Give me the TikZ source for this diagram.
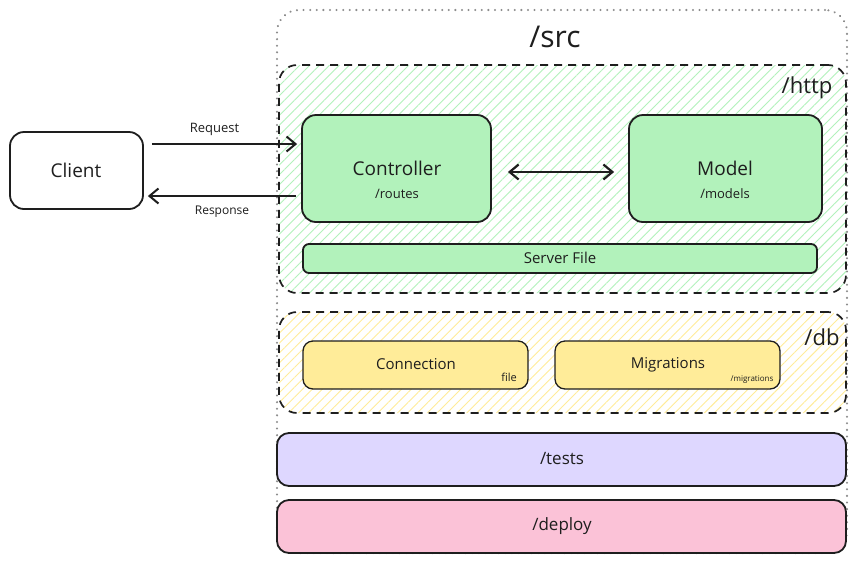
\documentclass[tikz,border=0pt]{standalone}
\usepackage{fontspec}
\setmainfont{Open Sans}
\usetikzlibrary{arrows.meta,patterns.meta}
\definecolor{grn}{HTML}{B2F2BB}
\definecolor{ylw}{HTML}{FFEC99}
\definecolor{lav}{HTML}{DED7FF}
\definecolor{pnk}{HTML}{FBC2D7}
\definecolor{ink}{HTML}{1E1E1E}
\definecolor{dotgray}{HTML}{8C8C8C}
\tikzset{
  fs/.style={font=\fontsize{#1}{#1}\selectfont},
  box/.style={draw=ink, line width=1.8pt, rounded corners=14pt, inner sep=0pt},
  grp/.style={draw=ink, line width=1.7pt, dash pattern=on 8pt off 6pt, rounded corners=18pt, inner sep=0pt},
  txt/.style={text=ink, inner sep=0pt},
  tip/.style={Straight Barb[length=9pt,width=15pt,line width=2pt]},
  arr/.style={draw=ink, line width=2pt, -{Straight Barb[length=9pt,width=15pt,line width=2pt]}},
  darr/.style={draw=ink, line width=2.2pt, {Straight Barb[length=9pt,width=15pt,line width=2.2pt]}-{Straight Barb[length=9pt,width=15pt,line width=2.2pt]}},
}
\begin{document}
\begin{tikzpicture}[x=1pt,y=-1pt]
\useasboundingbox[fill=white] (0,0) rectangle (858,563);
% /src outer
\node[draw=dotgray, line width=2.2pt, line cap=round, dash pattern=on 0.1pt off 6.5pt, rounded corners=22pt, minimum width=570pt, minimum height=543pt, inner sep=0pt] (src) at (562,281.5) {};
\node[txt, fs=30] (srcl) at (555,37) {/src};
% /http group
\node[grp, pattern={Lines[angle=45,distance=7pt,line width=0.9pt]}, pattern color=grn, minimum width=567pt, minimum height=228pt] (http) at (562.5,179) {};
\node[txt, fs=22] (httpl) at (807,88) {/http};
% controller / model
\node[box, fill=grn, minimum width=189pt, minimum height=107pt] (ctrl) at (396.5,168.5) {};
\node[txt, fs=19] (ctrlt) at (397,168) {Controller};
\node[txt, fs=13] (ctrls) at (397,194) {/routes};
\node[box, fill=grn, minimum width=193pt, minimum height=107pt] (model) at (725.5,168.5) {};
\node[txt, fs=19] (modelt) at (725,168) {Model};
\node[txt, fs=13] (models) at (725,194) {/models};
\draw[darr] ([xshift=16pt,yshift=-3.5pt]ctrl.east) -- ([xshift=-14pt,yshift=-3.5pt]model.west);
% server file
\node[box, rounded corners=6pt, fill=grn, minimum width=514pt, minimum height=29pt] (server) at (560,258.5) {};
\node[txt, fs=15] (serverl) at (560,258) {Server File};
% /db group
\node[grp, pattern={Lines[angle=45,distance=7pt,line width=0.9pt]}, pattern color=ylw, minimum width=567pt, minimum height=101pt] (db) at (562.5,362.5) {};
\node[txt, fs=22] (dbl) at (822,337) {/db};
\node[box, line width=1.3pt, rounded corners=10pt, fill=ylw, minimum width=225pt, minimum height=48pt] (conn) at (415.5,365) {};
\node[txt, fs=15] (connl) at (416,364) {Connection};
\node[txt, fs=11] (connf) at (509,377) {file};
\node[box, line width=1.3pt, rounded corners=10pt, fill=ylw, minimum width=225pt, minimum height=48pt] (mig) at (667.5,365) {};
\node[txt, fs=15] (migl) at (668,365) {Migrations};
\node[txt, fs=8] (migf) at (752,380) {/migrations};
% tests / deploy
\node[box, rounded corners=12pt, fill=lav, minimum width=569pt, minimum height=53pt] (tests) at (561.5,459.5) {};
\node[txt, fs=17] (testsl) at (562,459) {/tests};
\node[box, rounded corners=12pt, fill=pnk, minimum width=569pt, minimum height=53pt] (deploy) at (561.5,526.5) {};
\node[txt, fs=17] (deployl) at (562,526) {/deploy};
% client
\node[box, fill=white, minimum width=133pt, minimum height=77pt] (client) at (76.5,170.5) {};
\node[txt, fs=19] (clientl) at (76,170) {Client};
% arrows
\draw[arr] ([xshift=8pt,yshift=26.5pt]client.east) -- node[txt, fs=13, above=7pt, xshift=-10pt] (reql) {Request} ([xshift=-4pt,yshift=24.5pt]ctrl.west);
\draw[arr] ([xshift=-5pt,yshift=-27.5pt]ctrl.west) -- node[txt, fs=12, below=9pt] (resl) {Response} ([xshift=4pt,yshift=-25.5pt]client.east);
\end{tikzpicture}
\end{document}
